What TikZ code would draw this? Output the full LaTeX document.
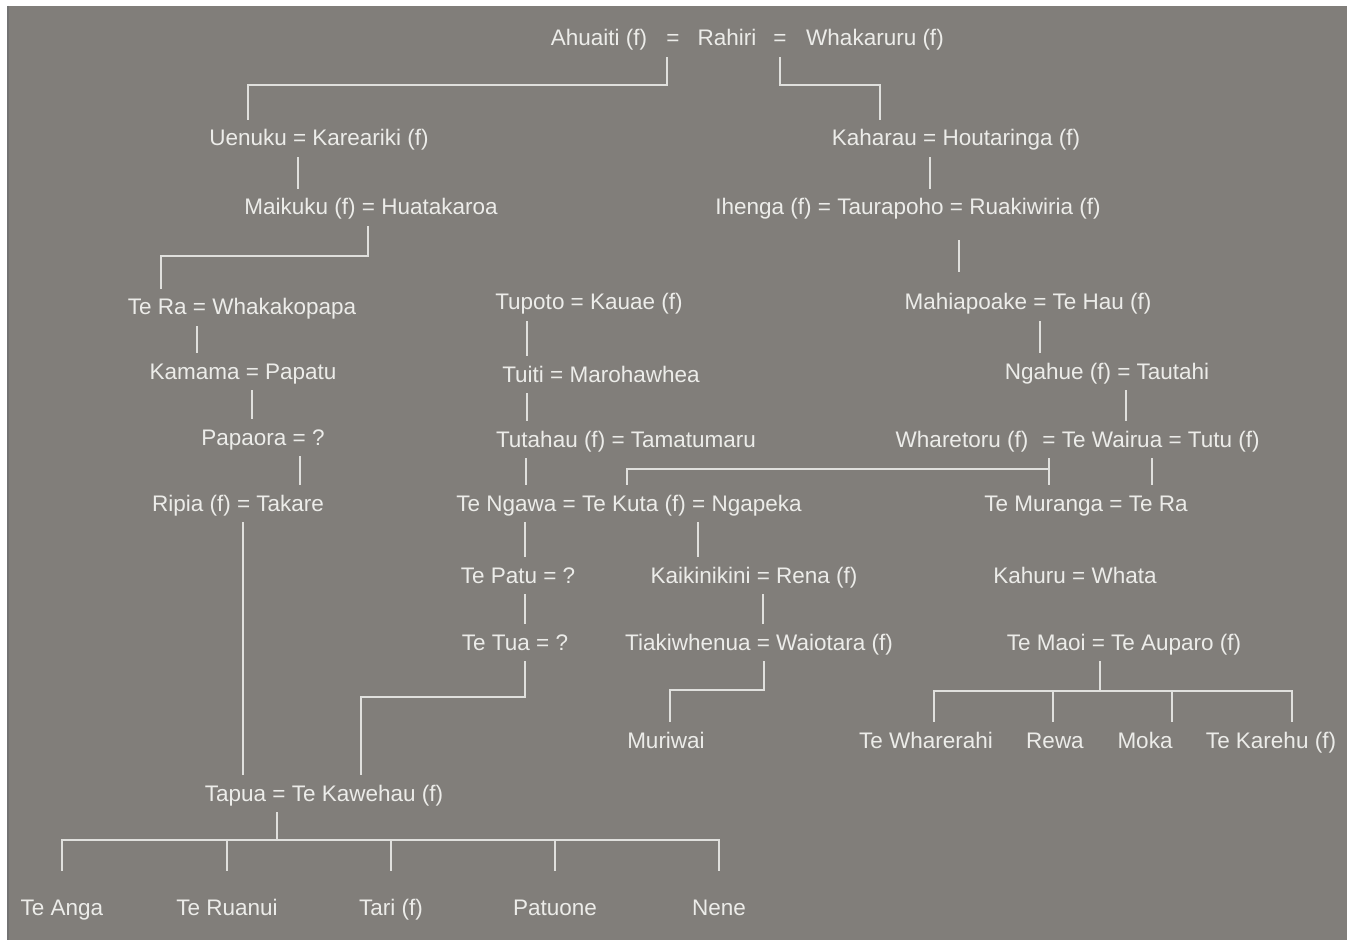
\documentclass[tikz,border=0pt]{standalone}
\usepackage{fontspec}
\setmainfont{Liberation Sans}
\usetikzlibrary{positioning}
\definecolor{slate}{RGB}{129,126,122}
\definecolor{chalk}{RGB}{236,236,233}
\definecolor{rulegray}{RGB}{224,224,221}

\begin{document}
\begin{tikzpicture}[x=1pt,y=-1pt,
                    person/.style={anchor=base,text=chalk,
                                   font=\fontsize{22.5}{26}\selectfont,
                                   text height=20pt,text depth=5pt,
                                   inner xsep=0pt,inner ysep=6pt},
                    link/.style={draw=rulegray,line width=2pt}]

  % background sheet
  \fill[white] (0,0) rectangle (1347,940);
  \fill[slate] (7,6) rectangle (1347,940);
  \draw[line width=2pt,black!55] (8,6) -- (8,940);
  \useasboundingbox (0,0) rectangle (1347,940);

  % generation 1
  \node[person] (ahuaiti)   at (599,46) {Ahuaiti (f)};
  \node[person] (eqA)       at (673,46) {=};
  \node[person] (rahiri)    at (727,46) {Rahiri};
  \node[person] (eqB)       at (780,46) {=};
  \node[person] (whakaruru) at (875,46) {Whakaruru (f)};

  % left and right lines
  \node[person] (uenuku)  at (319,146) {Uenuku = Kareariki (f)};
  \node[person] (kaharau) at (956,146) {Kaharau = Houtaringa (f)};
  \node[person] (maikuku) at (371,215) {Maikuku (f) = Huatakaroa};
  \node[person] (ihenga)  at (908,215) {Ihenga (f) = Taurapoho = Ruakiwiria (f)};

  \node[person] (tera)       at (242,315) {Te Ra = Whakakopapa};
  \node[person] (tupoto)     at (589,310) {Tupoto = Kauae (f)};
  \node[person] (mahiapoake) at (1028,310) {Mahiapoake = Te Hau (f)};

  \node[person] (kamama) at (243,379) {Kamama = Papatu};
  \node[person] (tuiti)  at (601,382) {Tuiti = Marohawhea};
  \node[person] (ngahue) at (1107,379) {Ngahue (f) = Tautahi};

  \node[person] (papaora)   at (263,445) {Papaora = ?};
  \node[person] (tutahau)   at (626,447) {Tutahau (f) = Tamatumaru};
  \node[person] (wharetoru) at (962,447) {Wharetoru (f)};
  \node[person] (tewairua)  at (1151,447) {= Te Wairua = Tutu (f)};

  \node[person] (ripia)     at (238,511) {Ripia (f) = Takare};
  \node[person] (tengawa)   at (629,511) {Te Ngawa = Te Kuta (f) = Ngapeka};
  \node[person] (temuranga) at (1086,511) {Te Muranga = Te Ra};

  \node[person] (tepatu)      at (518,583) {Te Patu = ?};
  \node[person] (kaikinikini) at (754,583) {Kaikinikini = Rena (f)};
  \node[person] (kahuru)      at (1075,583) {Kahuru = Whata};

  \node[person] (tetua)       at (515,650) {Te Tua = ?};
  \node[person] (tiakiwhenua) at (759,650) {Tiakiwhenua = Waiotara (f)};
  \node[person] (temaoi)      at (1124,650) {Te Maoi = Te Auparo (f)};

  \node[person] (muriwai)     at (666,748) {Muriwai};
  \node[person] (tewharerahi) at (926,748) {Te Wharerahi};
  \node[person] (rewa)        at (1055,748) {Rewa};
  \node[person] (moka)        at (1145,748) {Moka};
  \node[person] (tekarehu)    at (1271,748) {Te Karehu (f)};

  \node[person] (tapua) at (324,801) {Tapua = Te Kawehau (f)};

  \node[person] (teanga)   at (62,915)  {Te Anga};
  \node[person] (teruanui) at (227,915) {Te Ruanui};
  \node[person] (tari)     at (391,915) {Tari (f)};
  \node[person] (patuone)  at (555,915) {Patuone};
  \node[person] (nene)     at (719,915) {Nene};

  % descent lines
  \draw[link] (eqA.south -| 667,0) |- (248,85) -- (uenuku.north -| 248,0);
  \draw[link] (eqB.south -| 780,0) |- (880,85) -- (kaharau.north -| 880,0);
  \draw[link] (uenuku.south -| 298,0) -- (maikuku.north -| 298,0);
  \draw[link] (kaharau.south -| 930,0) -- (ihenga.north -| 930,0);
  \draw[link] (maikuku.south -| 368,0) |- (161,256) -- (tera.north -| 161,0);
  \draw[link,shorten <=14pt,shorten >=12pt] (ihenga.south -| 959,0) -- (mahiapoake.north -| 959,0);

  \draw[link] (tera.south -| 197,0) -- (kamama.north -| 197,0);
  \draw[link] (tupoto.south -| 527,0) -- (tuiti.north -| 527,0);
  \draw[link] (mahiapoake.south -| 1040,0) -- (ngahue.north -| 1040,0);

  \draw[link] (kamama.south -| 252,0) -- (papaora.north -| 252,0);
  \draw[link] (tuiti.south -| 527,0) -- (tutahau.north -| 527,0);
  \draw[link] (ngahue.south -| 1126,0) -- (tewairua.north -| 1126,0);

  \draw[link] (papaora.south -| 300,0) -- (ripia.north -| 300,0);
  \draw[link] (tutahau.south -| 526,0) -- (tengawa.north -| 526,0);
  \coordinate (wairuaj) at (1049,469);
  \draw[link] (tewairua.south -| 1049,0) -- (temuranga.north -| 1049,0);
  \draw[link] (wairuaj) -| (tengawa.north -| 627,0);
  \draw[link] (tewairua.south -| 1152,0) -- (temuranga.north -| 1152,0);

  \draw[link] (ripia.south -| 243,0) -- (tapua.north -| 243,0);
  \draw[link] (tengawa.south -| 525,0) -- (tepatu.north -| 525,0);
  \draw[link] (tengawa.south -| 698,0) -- (kaikinikini.north -| 698,0);

  \draw[link] (tepatu.south -| 525,0) -- (tetua.north -| 525,0);
  \draw[link] (kaikinikini.south -| 763,0) -- (tiakiwhenua.north -| 763,0);

  \draw[link] (tetua.south -| 525,0) |- (361,697) -- (tapua.north -| 361,0);
  \draw[link] (tiakiwhenua.south -| 764,0) |- (670,690) -- (muriwai.north -| 670,0);

  \draw[link] (temaoi.south -| 1100,0) -- (1100,691);
  \draw[link] (tewharerahi.north -| 934,0) |- (1292,691) -- (tekarehu.north -| 1292,0);
  \foreach \x/\k in {1053/rewa,1172/moka}
    \draw[link] (\x,691) -- (\k.north -| \x,0);

  \draw[link] (tapua.south -| 277,0) -- (277,840);
  \draw[link,shorten <=18pt] (teanga.north) |- (719,840) -- ([yshift=18pt]nene.north);
  \foreach \k in {teruanui,tari,patuone}
    \draw[link,shorten >=18pt] (\k.north |- 0,840) -- (\k.north);
\end{tikzpicture}
\end{document}
